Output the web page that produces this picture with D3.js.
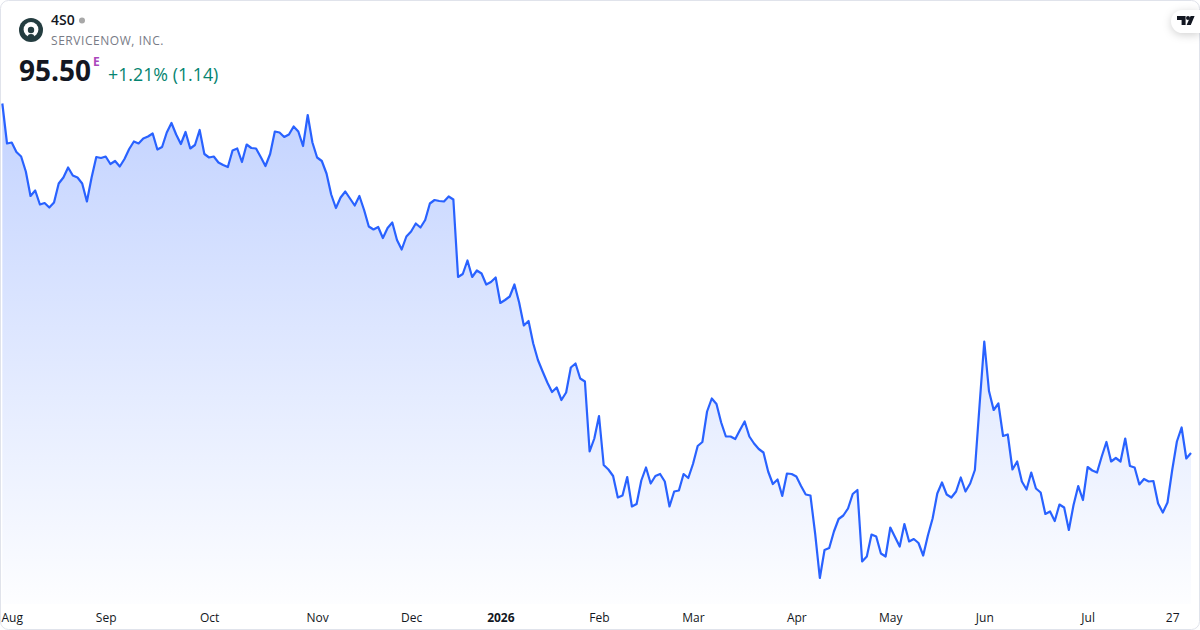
<!DOCTYPE html>
<html><head><meta charset="utf-8">
<script src="https://cdn.jsdelivr.net/npm/d3@7/dist/d3.min.js"></script>
<style>html,body{margin:0;padding:0;background:#fff;overflow:hidden}svg{display:block}text{font-family:"Open Sans",sans-serif}</style>
</head><body><svg id="c" width="1200" height="630"></svg>
<script>
const prices = [165.4,157.4,157.6,155.7,154.8,151.8,146.9,148.0,145.2,145.5,144.6,145.6,149.4,150.6,152.6,151.0,150.6,149.4,145.8,150.6,
154.7,154.5,154.8,153.3,153.9,152.8,154.3,156.3,157.8,157.4,158.4,158.8,159.4,156.2,156.7,159.6,161.5,159.2,157.3,159.7,
156.4,157.1,160.1,155.3,154.6,154.8,153.6,153.1,152.7,156.0,156.4,153.7,157.2,156.5,156.4,154.7,152.9,155.3,159.8,159.6,
158.7,159.2,160.8,159.8,156.9,163.1,157.6,154.6,153.9,151.4,147.2,144.5,146.6,147.8,146.4,145.0,146.9,144.1,140.8,140.2,
140.7,138.5,140.5,141.6,138.1,136.2,138.8,139.8,141.4,140.6,142.1,145.4,146.1,145.9,145.8,146.8,146.2,130.7,131.3,134.0,
130.7,132.0,131.4,129.2,129.7,130.6,125.5,126.1,126.8,129.2,125.6,121.0,121.9,117.4,114.1,111.8,109.6,107.7,108.6,106.1,
107.6,112.6,113.4,110.4,109.8,95.8,98.4,102.9,93.1,92.2,90.9,86.6,87.0,90.7,84.8,85.3,90.0,92.6,89.4,90.9,
91.3,89.8,84.8,87.8,88.0,91.3,90.5,93.3,96.9,97.7,103.8,106.4,105.3,101.6,98.8,98.8,98.3,100.1,101.8,98.8,
97.4,96.3,95.6,91.8,89.3,90.2,86.9,91.4,91.3,90.8,88.9,87.2,87.0,79.4,70.5,76.1,76.5,79.8,82.3,83.0,
84.4,87.3,88.1,73.8,74.8,79.2,78.8,75.4,74.8,80.6,78.7,76.8,81.3,77.8,78.3,77.5,75.0,79.0,82.4,87.4,
89.6,87.2,86.6,87.8,90.6,87.8,89.4,92.1,105.1,117.8,107.9,104.1,105.4,98.9,99.2,92.2,93.8,89.8,88.2,91.6,
88.4,87.6,83.3,83.8,81.9,85.2,84.6,80.1,85.1,88.9,86.1,92.7,92.0,91.6,94.8,97.7,93.8,94.5,93.8,98.4,
92.9,92.6,89.2,90.3,89.8,89.9,85.4,83.6,85.6,92.1,97.8,100.6,94.4,95.5];
const tickLabels = ["Aug","Sep","Oct","Nov","Dec","2026","Feb","Mar","Apr","May","Jun","Jul","27"];
const tickIndex = [2,22,44,67,87,106,127,147,169,189,209,231,249];
const boldTicks = ["2026"];
const symbol = "4S0", company = "SERVICENOW, INC.", lastPrice = "95.50", change = "+1.21% (1.14)";

const svg = d3.select("#c");
const x = d3.scaleLinear().domain([0, prices.length - 1]).range([2.33, 1191]);
const y = d3.scaleLinear().domain([68.1, 168.1]).range([590, 90]);
const bottom = 604;

const defs = svg.append("defs");
const g = defs.append("linearGradient").attr("id","fade").attr("gradientUnits","userSpaceOnUse")
  .attr("x1",0).attr("x2",0).attr("y1",y(d3.max(prices))).attr("y2",bottom);
g.append("stop").attr("offset",0).attr("stop-color","#2962ff").attr("stop-opacity",0.28);
g.append("stop").attr("offset",1).attr("stop-color","#2962ff").attr("stop-opacity",0.01);

svg.append("rect").attr("x",.5).attr("y",.5).attr("width",1199).attr("height",629).attr("rx",8).attr("fill","#fff").attr("stroke","#e0e3eb");

svg.append("path").datum(prices).attr("fill","url(#fade)")
  .attr("d", d3.area().x((d,i)=>x(i)).y0(bottom).y1(d=>y(d)));
svg.append("path").datum(prices).attr("fill","none").attr("stroke","#2962ff").attr("stroke-width",2.2).attr("stroke-linejoin","round")
  .attr("d", d3.line().x((d,i)=>x(i)).y(d=>y(d)));

// time axis
const ax = d3.axisBottom(x).tickValues(tickIndex).tickSize(0).tickFormat((d,i)=>tickLabels[i]);
const axG = svg.append("g").attr("transform","translate(0,609)").call(ax);
axG.select(".domain").remove();
axG.selectAll("text").attr("font-size",12).attr("fill","#131722").attr("dy",0).attr("y",13)
  .attr("font-weight",(d,i)=>boldTicks.includes(tickLabels[i])?700:400);

// header
svg.append("circle").attr("cx",31).attr("cy",30).attr("r",12).attr("fill","#243d40");
svg.append("circle").attr("cx",31).attr("cy",29.5).attr("r",7.4).attr("fill","#fff");
svg.append("circle").attr("cx",31).attr("cy",30).attr("r",3.2).attr("fill","#243d40");
svg.append("path").attr("d","M27.6 37.5a3.4 3.4 0 0 1 6.8 0Z").attr("fill","#243d40");
svg.append("text").attr("x",51).attr("y",25).attr("font-size",14).attr("font-weight",600).attr("fill","#131722").text(symbol);
svg.append("circle").attr("cx",82).attr("cy",20.5).attr("r",3).attr("fill","#a8a8a8");
svg.append("text").attr("x",51).attr("y",45).attr("font-size",12).attr("letter-spacing",0.55).attr("fill","#787b86").text(company);
svg.append("text").attr("x",19).attr("y",81).attr("font-size",28).attr("font-weight",700).attr("fill","#131722").text(lastPrice);
svg.append("text").attr("x",93).attr("y",66).attr("font-size",12).attr("font-weight",700).attr("fill","#ab47bc").text("E");
svg.append("text").attr("x",108).attr("y",81).attr("font-size",17.8).attr("fill","#058470").text(change);

// badge
const b = svg.append("g");
b.append("path").attr("d","M1200 10H1182.5a11.5 11.5 0 0 0 0 23H1200Z").attr("fill","#fff")
  .style("filter","drop-shadow(0 2px 4px rgba(0,0,0,.18))");
b.append("path").attr("d","M1177 16h8.6v9h-4v-5H1177Z M1190.6 16h4l-3.8 9h-4.2Z").attr("fill","#131722");
b.append("circle").attr("cx",1188).attr("cy",18).attr("r",2).attr("fill","#131722");
</script></body></html>
